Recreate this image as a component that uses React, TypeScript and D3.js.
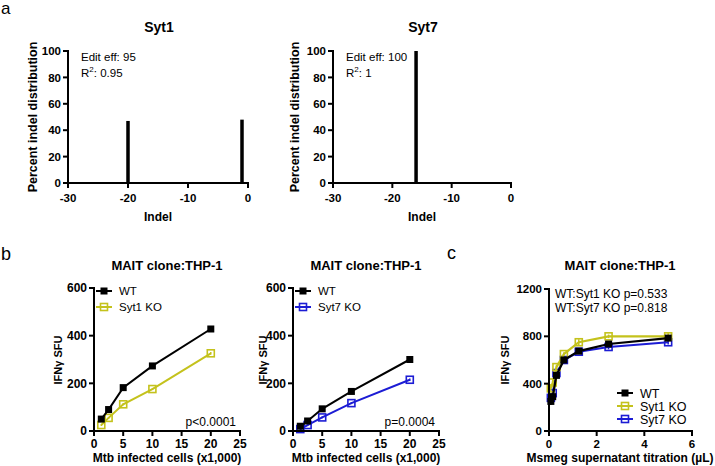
import React from 'react';
import * as d3 from 'd3';

const FONT = '"Liberation Sans", Arial, sans-serif';
const YELLOW = '#c4c21c';
const BLUE = '#1c1cd4';

// panel a: indel distributions
const indelTicks = [-30, -20, -10, 0];
const pctTicks = [0, 20, 40, 60, 80, 100];
const syt1Indel = [-20, -1];
const syt1Pct = [47, 48];
const syt7Indel = [-16];
const syt7Pct = [100];

// panel b: Mtb infected cells
const mtbCells = [1.25, 2.5, 5, 10, 20];
const mtbTicks = [0, 5, 10, 15, 20, 25];
const sfuTicks = [0, 200, 400, 600];
const wtB1 = [50, 90, 182, 273, 428];
const wtB1Err = [6, 6, 5, 5, 9];
const syt1B = [25, 55, 112, 176, 326];
const syt1BErr = [4, 4, 4, 4, 5];
const wtB2 = [20, 42, 93, 166, 300];
const wtB2Err = [4, 5, 7, 9, 5];
const syt7B = [8, 25, 57, 117, 215];
const syt7BErr = [3, 3, 4, 4, 5];

// panel c: Msmeg supernatant titration
const supVol = [0.078, 0.156, 0.3125, 0.625, 1.25, 2.5, 5];
const volTicks = [0, 2, 4, 6];
const sfuTicksC = [0, 400, 800, 1200];
const wtC = [250, 290, 470, 600, 675, 735, 785];
const wtCErr = [30, 25, 20, 15, 15, 20, 25];
const syt1C = [360, 410, 540, 650, 750, 800, 800];
const syt1CErr = [25, 20, 20, 15, 25, 15, 30];
const syt7C = [280, 320, 490, 600, 670, 710, 750];
const syt7CErr = [25, 25, 20, 15, 15, 20, 20];

type Lin = d3.ScaleLinear<number, number>;

function Axes({ x, y, xTicks, yTicks, fs, xOff }: { x: Lin; y: Lin; xTicks: number[]; yTicks: number[]; fs: number; xOff: number }) {
    const [x0, x1] = x.range();
    const [y0, y1] = y.range();
    return (
        <g fontFamily={FONT} fontWeight="bold" fontSize={fs} fill="#000">
            <line x1={x0 - 1} x2={x1 + 1} y1={y0} y2={y0} stroke="#000" strokeWidth={2} />
            <line x1={x0} x2={x0} y1={y0} y2={y1 - 1} stroke="#000" strokeWidth={2} />
            {xTicks.map(t => (
                <g key={'x' + t}>
                    <line x1={x(t)} x2={x(t)} y1={y0} y2={y0 + 5} stroke="#000" strokeWidth={2} />
                    <text x={x(t)} y={y0 + xOff} textAnchor="middle">{String(t)}</text>
                </g>
            ))}
            {yTicks.map(t => (
                <g key={'y' + t}>
                    <line x1={x0 - 5} x2={x0} y1={y(t)} y2={y(t)} stroke="#000" strokeWidth={2} />
                    <text x={x0 - 7} y={y(t) + fs * 0.36} textAnchor="end">{String(t)}</text>
                </g>
            ))}
        </g>
    );
}

function Series({ x, y, xs, ys, err, color, filled, size, sw }: { x: Lin; y: Lin; xs: number[]; ys: number[]; err: number[]; color: string; filled: boolean; size: number; sw: number }) {
    const line = d3.line<number>().x((_, i) => x(xs[i])).y(v => y(v));
    return (
        <g>
            {ys.map((v, i) => (
                <line key={'e' + i} x1={x(xs[i])} x2={x(xs[i])} y1={y(v - err[i])} y2={y(v + err[i])} stroke={color} strokeWidth={1.5} />
            ))}
            <path d={line(ys) || ''} fill="none" stroke={color} strokeWidth={sw} />
            {ys.map((v, i) => (
                <rect key={'m' + i} x={x(xs[i]) - size / 2} y={y(v) - size / 2} width={size} height={size}
                    fill={filled ? color : 'none'} stroke={color} strokeWidth={filled ? 0 : 1.6} />
            ))}
        </g>
    );
}

function LegendRow({ x, y, label, color, filled, fs }: { x: number; y: number; label: string; color: string; filled: boolean; fs: number }) {
    return (
        <g>
            <line x1={x - 8} x2={x + 8} y1={y} y2={y} stroke={color} strokeWidth={2} />
            <rect x={x - 3.5} y={y - 3.5} width={7} height={7} fill={filled ? color : 'none'} stroke={color} strokeWidth={filled ? 0 : 1.6} />
            <text x={x + 15} y={y + fs * 0.36} fontFamily={FONT} fontSize={fs}>{label}</text>
        </g>
    );
}

function IndelPanel({ left, right, title, indel, pct, eff, r2, labelX }: { left: number; right: number; title: string; indel: number[]; pct: number[]; eff: string; r2: string; labelX: number }) {
    const x = d3.scaleLinear().domain([-30, 0]).range([left, right]);
    const y = d3.scaleLinear().domain([0, 100]).range([183, 51]);
    const mid = (left + right) / 2;
    return (
        <g>
            <text x={mid + 1} y={32} textAnchor="middle" fontFamily={FONT} fontWeight="bold" fontSize={14}>{title}</text>
            {indel.map((d, i) => (
                <rect key={i} x={x(d) - 1.75} y={y(pct[i])} width={3.5} height={y(0) - y(pct[i])} fill="#000" />
            ))}
            <Axes x={x} y={y} xTicks={indelTicks} yTicks={pctTicks} fs={11.5} xOff={19} />
            <text x={left + 13} y={61} fontFamily={FONT} fontSize={11.5}>Edit eff: {eff}</text>
            <text x={left + 13} y={77} fontFamily={FONT} fontSize={11.5}>R<tspan dy={-5} fontSize={8}>2</tspan><tspan dy={5}>: {r2}</tspan></text>
            <text x={mid} y={221} textAnchor="middle" fontFamily={FONT} fontWeight="bold" fontSize={12}>Indel</text>
            <text transform={`translate(${labelX},117) rotate(-90)`} textAnchor="middle" fontFamily={FONT} fontWeight="bold" fontSize={12.5}>Percent indel distribution</text>
        </g>
    );
}

function MtbPanel({ left, wt, wtErr, ko, koErr, koLabel, koColor, p, labelX }: { left: number; wt: number[]; wtErr: number[]; ko: number[]; koErr: number[]; koLabel: string; koColor: string; p: string; labelX: number }) {
    const x = d3.scaleLinear().domain([0, 25]).range([left, left + 146]);
    const y = d3.scaleLinear().domain([0, 600]).range([431, 288]);
    const mid = left + 73;
    return (
        <g>
            <text x={mid} y={270} textAnchor="middle" fontFamily={FONT} fontWeight="bold" fontSize={13}>MAIT clone:THP-1</text>
            <Series x={x} y={y} xs={mtbCells} ys={ko} err={koErr} color={koColor} filled={false} size={7} sw={2} />
            <Series x={x} y={y} xs={mtbCells} ys={wt} err={wtErr} color="#000" filled={true} size={7} sw={2} />
            <Axes x={x} y={y} xTicks={mtbTicks} yTicks={sfuTicks} fs={12} xOff={17} />
            <LegendRow x={left + 10} y={291} label="WT" color="#000" filled={true} fs={11.5} />
            <LegendRow x={left + 10} y={307} label={koLabel} color={koColor} filled={false} fs={11.5} />
            <text x={left + 142} y={426} textAnchor="end" fontFamily={FONT} fontSize={12}>{p}</text>
            <text x={mid} y={462} textAnchor="middle" fontFamily={FONT} fontWeight="bold" fontSize={12}>Mtb infected cells (x1,000)</text>
            <text transform={`translate(${labelX},360) rotate(-90)`} textAnchor="middle" fontFamily={FONT} fontWeight="bold" fontSize={11}>IFNγ SFU</text>
        </g>
    );
}

function TitrationPanel() {
    const x = d3.scaleLinear().domain([0, 6]).range([549, 692]);
    const y = d3.scaleLinear().domain([0, 1200]).range([431, 289]);
    return (
        <g>
            <text x={620} y={270} textAnchor="middle" fontFamily={FONT} fontWeight="bold" fontSize={13}>MAIT clone:THP-1</text>
            <Series x={x} y={y} xs={supVol} ys={syt7C} err={syt7CErr} color={BLUE} filled={false} size={7} sw={2.2} />
            <Series x={x} y={y} xs={supVol} ys={syt1C} err={syt1CErr} color={YELLOW} filled={false} size={7} sw={2.2} />
            <Series x={x} y={y} xs={supVol} ys={wtC} err={wtCErr} color="#000" filled={true} size={7} sw={2.2} />
            <Axes x={x} y={y} xTicks={volTicks} yTicks={sfuTicksC} fs={11.5} xOff={17} />
            <text x={555} y={298} fontFamily={FONT} fontSize={12}>WT:Syt1 KO p=0.533</text>
            <text x={555} y={312} fontFamily={FONT} fontSize={12}>WT:Syt7 KO p=0.818</text>
            <LegendRow x={625} y={393} label="WT" color="#000" filled={true} fs={12.5} />
            <LegendRow x={625} y={406} label="Syt1 KO" color={YELLOW} filled={false} fs={12.5} />
            <LegendRow x={625} y={419} label="Syt7 KO" color={BLUE} filled={false} fs={12.5} />
            <text x={620} y={462} textAnchor="middle" fontFamily={FONT} fontWeight="bold" fontSize={12}>Msmeg supernatant titration (µL)</text>
            <text transform={`translate(509,360) rotate(-90)`} textAnchor="middle" fontFamily={FONT} fontWeight="bold" fontSize={11}>IFNγ SFU</text>
        </g>
    );
}

export default function App() {
    return (
        <svg width={715} height={466} style={{ position: 'absolute', left: 0, top: 0, background: '#fff' }}>
            <text x={1} y={14} fontFamily={FONT} fontSize={17}>a</text>
            <text x={1} y={260} fontFamily={FONT} fontSize={18}>b</text>
            <text x={447} y={259} fontFamily={FONT} fontSize={18}>c</text>
            <IndelPanel left={68} right={248} title="Syt1" indel={syt1Indel} pct={syt1Pct} eff="95" r2="0.95" labelX={37} />
            <IndelPanel left={333} right={511} title="Syt7" indel={syt7Indel} pct={syt7Pct} eff="100" r2="1" labelX={299} />
            <MtbPanel left={94} wt={wtB1} wtErr={wtB1Err} ko={syt1B} koErr={syt1BErr} koLabel="Syt1 KO" koColor={YELLOW} p="p<0.0001" labelX={62} />
            <MtbPanel left={293} wt={wtB2} wtErr={wtB2Err} ko={syt7B} koErr={syt7BErr} koLabel="Syt7 KO" koColor={BLUE} p="p=0.0004" labelX={267} />
            <TitrationPanel />
        </svg>
    );
}
